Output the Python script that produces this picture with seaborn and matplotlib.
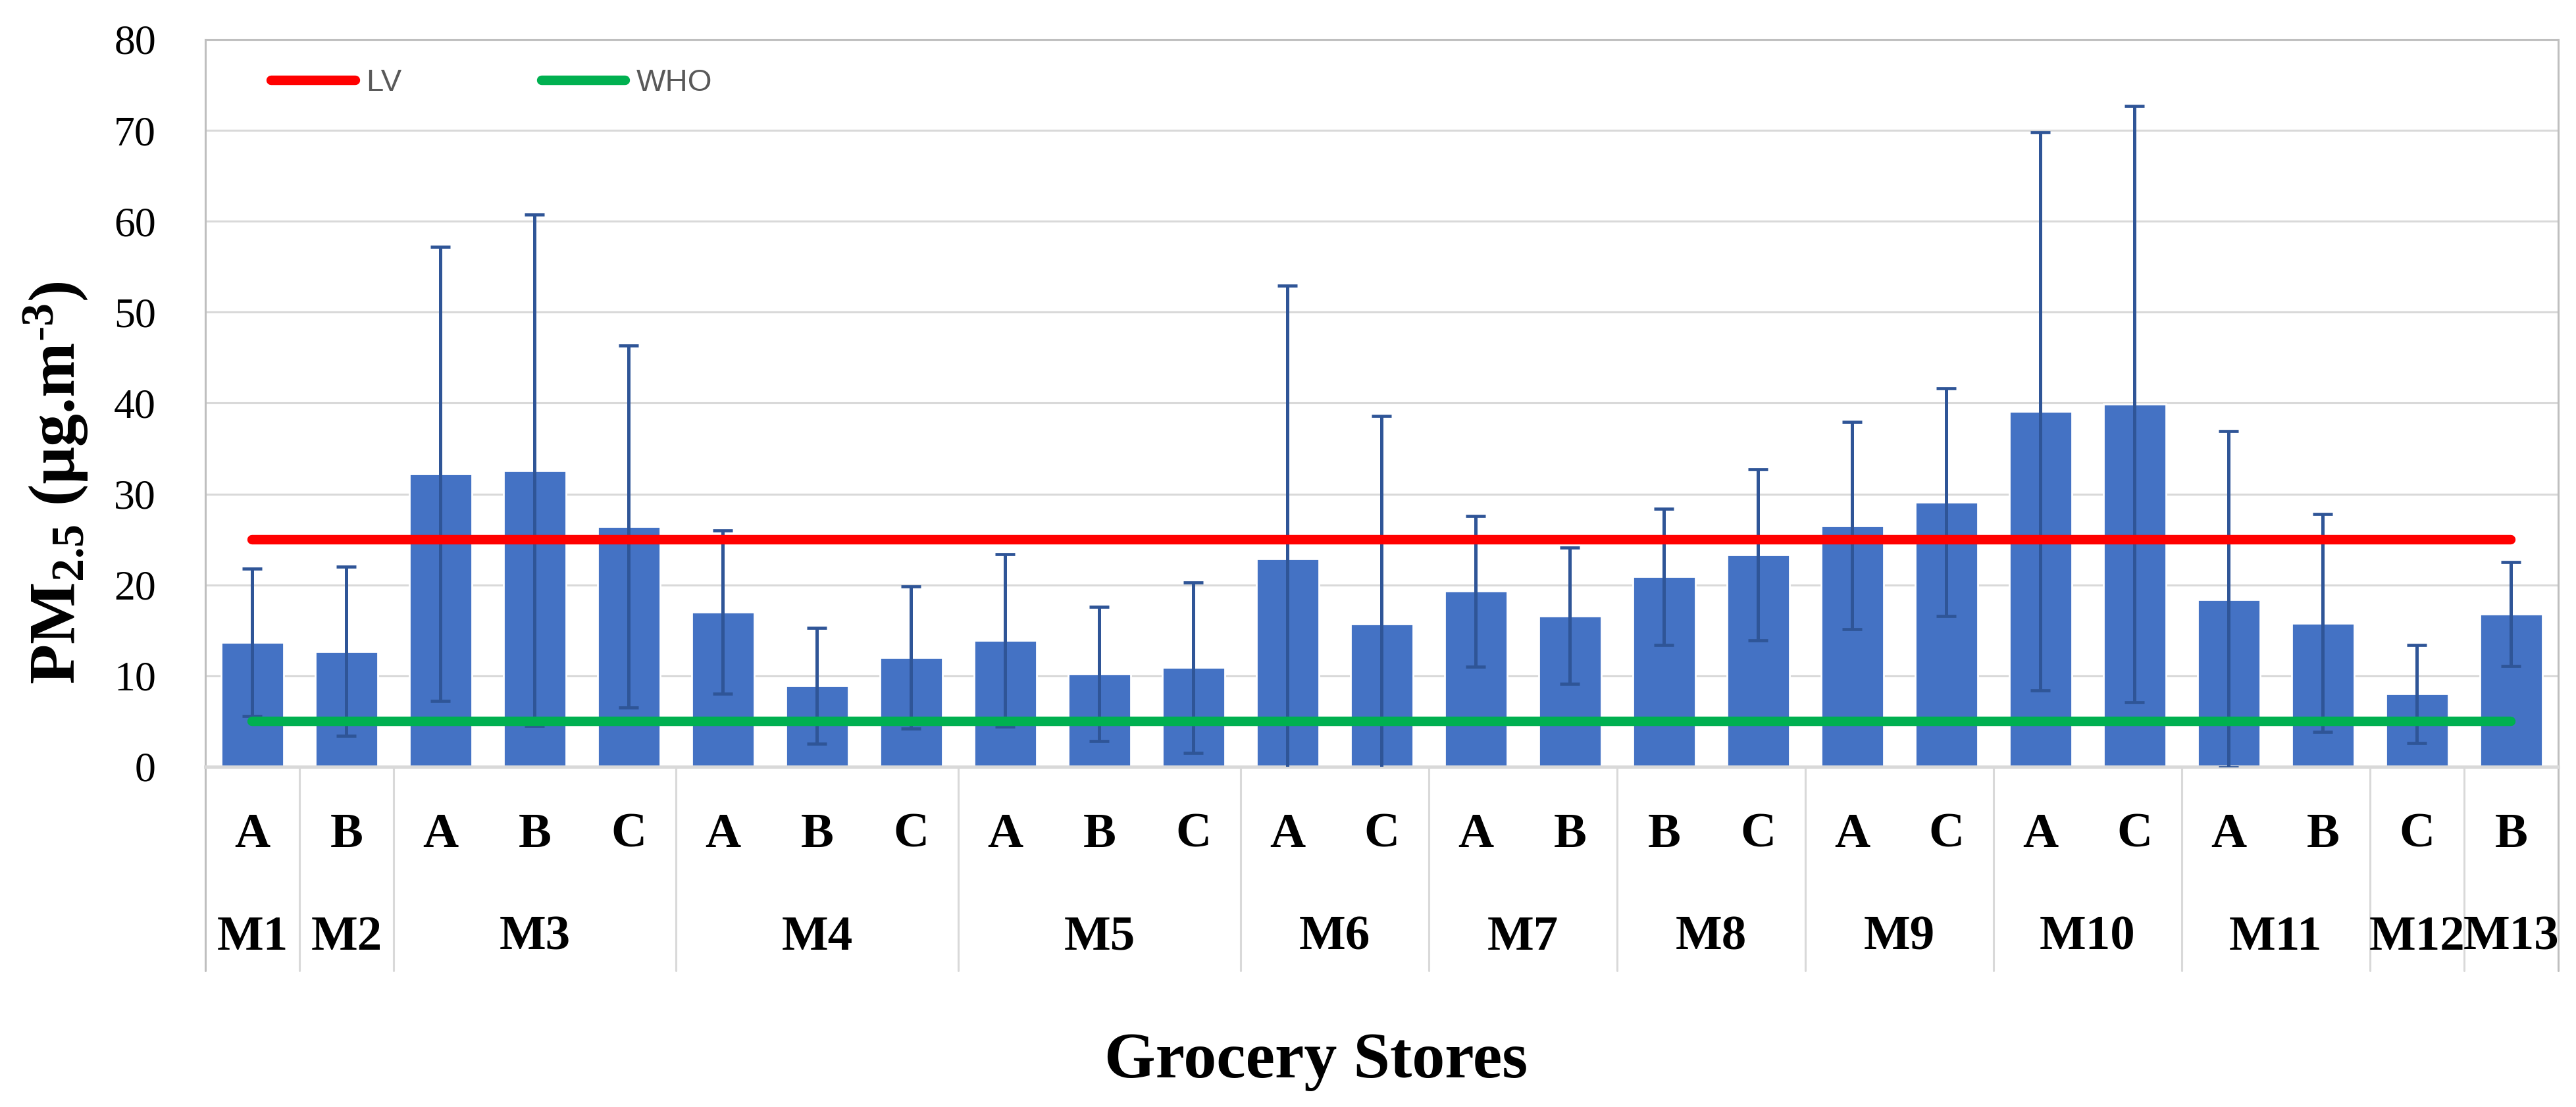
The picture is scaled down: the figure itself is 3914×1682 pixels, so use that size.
import matplotlib
matplotlib.use("Agg")
import matplotlib.pyplot as plt
import seaborn as sns
import pandas as pd
import numpy as np
from matplotlib.transforms import blended_transform_factory

# ---------------- data ----------------
stores = ["M1", "M2", "M3", "M3", "M3", "M4", "M4", "M4", "M5", "M5", "M5",
          "M6", "M6", "M7", "M7", "M8", "M8", "M9", "M9", "M10", "M10",
          "M11", "M11", "M12", "M13"]
zones = ["A", "B", "A", "B", "C", "A", "B", "C", "A", "B", "C",
         "A", "C", "A", "B", "B", "C", "A", "C", "A", "C",
         "A", "B", "C", "B"]
pm25_mean = [13.7, 12.7, 32.2, 32.6, 26.4, 17.0, 8.9, 12.0, 13.9, 10.2, 10.9,
             22.9, 15.7, 19.3, 16.6, 20.9, 23.3, 26.5, 29.1, 39.1, 39.9,
             18.4, 15.8, 8.0, 16.8]
pm25_sd = [8.1, 9.3, 25.0, 28.1, 19.9, 9.0, 6.4, 7.8, 9.5, 7.4, 9.4,
           30.0, 22.9, 8.3, 7.5, 7.5, 9.4, 11.4, 12.5, 30.7, 32.8,
           18.5, 12.0, 5.4, 5.7]
LV_LIMIT = 25
WHO_LIMIT = 5
y_ticks = [0, 10, 20, 30, 40, 50, 60, 70, 80]

# ---------------- style ----------------
sns.set_theme(style="white")
plt.rcParams["font.family"] = ["Liberation Serif", "DejaVu Serif"]
plt.rcParams["mathtext.fontset"] = "custom"
plt.rcParams["mathtext.rm"] = "Liberation Serif"
plt.rcParams["mathtext.bf"] = "Liberation Serif:bold"
plt.rcParams["mathtext.it"] = "Liberation Serif:italic"
plt.rcParams["text.color"] = "black"
plt.rcParams["axes.labelcolor"] = "black"

df = pd.DataFrame({
    "id": [f"{s}-{z}" for s, z in zip(stores, zones)],
    "store": stores,
    "zone": zones,
    "mean": pm25_mean,
    "sd": pm25_sd,
})
n = len(df)
x = np.arange(n)

fig = plt.figure(figsize=(19.57, 8.41), dpi=200)
ax = fig.add_axes([0.0797, 0.3074, 0.9134, 0.657])

sns.barplot(data=df, x="id", y="mean", color="#4472C4", saturation=1,
            width=0.67, errorbar=None, ax=ax, zorder=2)
ax.errorbar(x, df["mean"], yerr=df["sd"], fmt="none", ecolor="#2F5597",
            elinewidth=1.8, capsize=5.4, capthick=1.7, zorder=3)
ax.plot(x, [LV_LIMIT] * n, color="#FF0000", lw=5.2, solid_capstyle="round",
        label="LV", zorder=4)
ax.plot(x, [WHO_LIMIT] * n, color="#00B050", lw=5.2, solid_capstyle="round",
        label="WHO", zorder=4)

ax.set_xlim(-0.5, n - 0.5)
ax.set_ylim(0, 80)
ax.set_yticks(y_ticks)
ax.set_xticks([])
ax.set_xlabel("")
ax.yaxis.grid(True, color="#D9D9D9", lw=1.1)
ax.set_axisbelow(True)
ax.tick_params(axis="y", length=0, pad=27, labelsize=23, labelcolor="black")

for side in ["left", "top", "right"]:
    ax.spines[side].set_color("#BFBFBF")
    ax.spines[side].set_linewidth(1.1)
ax.spines["bottom"].set_color("#D9D9D9")
ax.spines["bottom"].set_linewidth(1.8)

ax.set_ylabel(r"PM$_{\mathbf{2.5}}$ (µg.m$^{\mathbf{\text{-}3}}$)", fontsize=36,
              fontweight="bold", color="black")
ax.yaxis.set_label_coords(-0.049, 0.39)

# multi-level category axis
trans = blended_transform_factory(ax.transData, ax.transAxes)
for i, z in enumerate(zones):
    ax.text(i, -0.094, z, transform=trans, ha="center", va="center",
            fontsize=27, fontweight="bold", color="black", clip_on=False)

groups = []
for i, s in enumerate(stores):
    if groups and groups[-1][0] == s:
        groups[-1][2] = i
    else:
        groups.append([s, i, i])
bounds = [-0.5]
for s, a, b in groups:
    ax.text((a + b) / 2, -0.235, s, transform=trans, ha="center", va="center",
            fontsize=27, fontweight="bold", color="black", clip_on=False)
    bounds.append(b + 0.5)
for k, bx in enumerate(bounds):
    col = "#BFBFBF" if k in (0, len(bounds) - 1) else "#D9D9D9"
    ax.plot([bx, bx], [0, -0.281], transform=trans, clip_on=False,
            color=col, lw=1.1)

ax.text(0.472, -0.405, "Grocery Stores", transform=ax.transAxes, ha="center",
        va="center", fontsize=36, fontweight="bold", color="black")

leg = ax.legend(loc="center left", bbox_to_anchor=(0.028, 0.94), ncol=2,
                frameon=False, handlelength=2.7, handletextpad=0.35,
                columnspacing=4.5, borderaxespad=0, borderpad=0,
                prop={"family": ["Liberation Sans", "DejaVu Sans"], "size": 17})
for t in leg.get_texts():
    t.set_color("#595959")

fig.savefig("out.png", dpi=200)
